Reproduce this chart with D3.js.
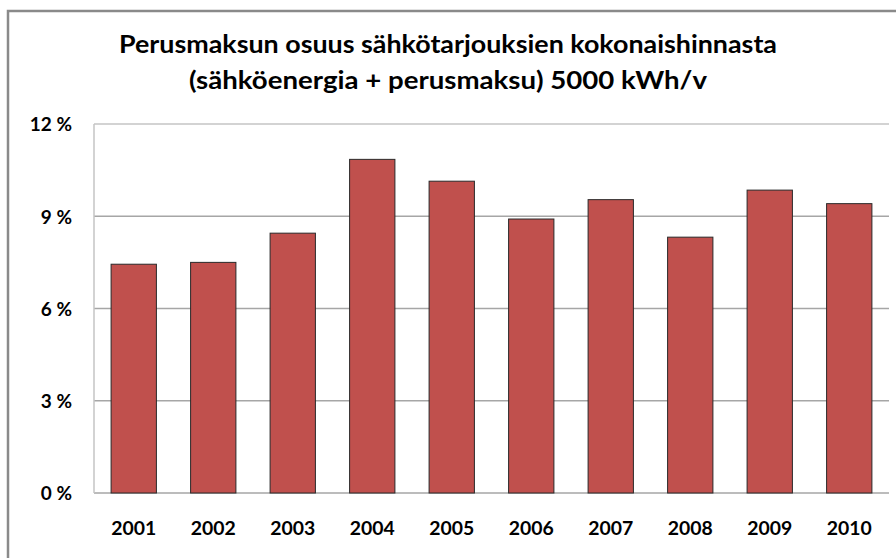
<!DOCTYPE html>
<html>
<head>
<meta charset="utf-8">
<script src="https://cdn.jsdelivr.net/npm/d3@7"></script>
<style>
  body { margin: 0; background: #fff; }
  text { font-family: Lato, "Open Sans", sans-serif; font-weight: bold; fill: #000; }
</style>
</head>
<body>
<div id="chart"></div>
<script>
// chart data
var years = ["2001", "2002", "2003", "2004", "2005", "2006", "2007", "2008", "2009", "2010"];
var shares = [7.44, 7.50, 8.45, 10.85, 10.14, 8.91, 9.54, 8.32, 9.85, 9.41];
var yTicks = [0, 3, 6, 9, 12];
var titleLines = ["Perusmaksun osuus sähkötarjouksien kokonaishinnasta",
                  "(sähköenergia + perusmaksu) 5000 kWh/v"];

var W = 896, H = 558;
var margin = {top: 124, right: 7, bottom: 65, left: 94},
    width = W - margin.left - margin.right,
    height = H - margin.top - margin.bottom;

var svg = d3.select("#chart").append("svg")
    .attr("width", W)
    .attr("height", H);

// outer frame (only top and left visible)
svg.append("path")
    .attr("d", "M8," + H + "V11H" + W)
    .attr("fill", "none")
    .attr("stroke", "#8a8a8a")
    .attr("stroke-width", 2.5);

// title
svg.selectAll(".title")
    .data(titleLines)
  .enter().append("text")
    .attr("class", "title")
    .attr("x", W / 2)
    .attr("y", function(d, i) { return 53 + i * 36; })
    .attr("text-anchor", "middle")
    .style("font-size", "24px")
    .attr("textLength", function(d, i) { return i == 0 ? 658 : 518; })
    .attr("lengthAdjust", "spacingAndGlyphs")
    .text(function(d) { return d; });

var g = svg.append("g")
    .attr("transform", "translate(" + margin.left + "," + margin.top + ")");

var x = d3.scaleBand().domain(years).range([0, width]).paddingInner(0.43).paddingOuter(0.215);
var y = d3.scaleLinear().domain([0, 12]).range([height, 0]);

// gridlines
g.selectAll(".grid")
    .data(yTicks)
  .enter().append("line")
    .attr("x1", 0)
    .attr("x2", width)
    .attr("y1", function(d) { return y(d); })
    .attr("y2", function(d) { return y(d); })
    .attr("stroke", function(d) { return d == 12 ? "#c4c4c4" : "#a6a6a6"; })
    .attr("stroke-width", 1.5);

// left axis line
g.append("line")
    .attr("x1", 0).attr("x2", 0)
    .attr("y1", 0).attr("y2", height)
    .attr("stroke", "#c4c4c4")
    .attr("stroke-width", 1.5);

// bars
g.selectAll(".bar")
    .data(shares)
  .enter().append("rect")
    .attr("class", "bar")
    .attr("x", function(d, i) { return x(years[i]); })
    .attr("width", x.bandwidth())
    .attr("y", function(d) { return y(d); })
    .attr("height", function(d) { return height - y(d); })
    .attr("fill", "#c0504d")
    .attr("stroke", "#2a2a2a")
    .attr("stroke-width", 1);

// y axis labels
var yAxis = d3.axisLeft(y).tickValues(yTicks)
    .tickFormat(function(d) { return d + " %"; })
    .tickSize(0).tickPadding(22);
var ya = g.append("g").call(yAxis);
ya.select(".domain").remove();
ya.selectAll("text")
    .style("font-size", "19px")
    .style("font-family", "Lato, 'Open Sans', sans-serif")
    .attr("dy", "0.36em");

// x axis labels
var xAxis = d3.axisBottom(x).tickSize(0).tickPadding(29);
var xa = g.append("g")
    .attr("transform", "translate(0," + height + ")")
    .call(xAxis);
xa.select(".domain").remove();
xa.selectAll("text")
    .style("font-size", "19px")
    .style("font-family", "Lato, 'Open Sans', sans-serif")
    .attr("textLength", 45)
    .attr("lengthAdjust", "spacingAndGlyphs");
</script>
</body>
</html>
